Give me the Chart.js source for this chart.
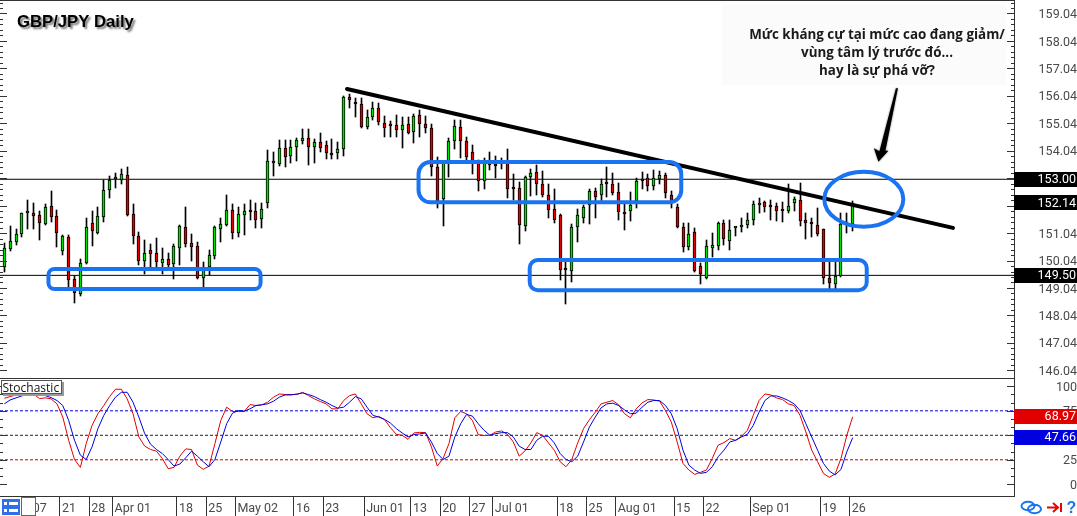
<!DOCTYPE html>
<html lang="vi">
<head>
<meta charset="utf-8">
<title>GBP/JPY Daily</title>
<script src="https://cdn.jsdelivr.net/npm/chart.js@4"></script>
<style>
  html, body { margin: 0; padding: 0; background: #fff; overflow: hidden; }
  canvas { display: block; }
</style>
</head>
<body>
<canvas id="chart" width="1077" height="516"></canvas>
<script>
// Daily candles, oldest first.
const opens = [
  149.79,150.47,150.73,151.00,151.76,151.76,151.69,151.38,152.02,151.65,
  150.38,150.89,149.36,148.81,149.96,151.40,151.06,151.64,152.60,153.00,
  152.96,153.15,151.72,150.92,150.04,150.41,150.30,149.96,150.09,149.92,
  150.49,151.25,150.67,150.56,149.42,149.79,150.22,151.20,151.35,151.87,
  151.03,151.71,151.87,151.83,151.54,152.13,153.61,153.57,154.13,153.84,
  154.17,154.38,154.49,154.17,154.35,154.24,153.95,153.95,154.09,155.99,
  155.77,155.73,154.92,155.26,155.59,155.04,154.97,154.97,154.79,155.00,
  154.71,155.33,155.00,154.86,153.46,152.27,153.58,154.38,154.89,154.38,
  153.98,153.58,152.93,153.58,153.51,153.55,153.58,152.67,152.67,151.29,
  153.07,153.26,152.82,152.42,151.91,151.69,149.73,149.65,151.25,151.58,
  152.05,152.56,152.42,152.85,152.82,152.53,151.76,151.83,152.20,152.94,
  153.04,152.74,153.01,153.15,152.42,151.98,151.25,150.52,151.07,149.84,
  149.39,150.49,150.56,151.40,150.74,151.24,151.25,151.32,151.51,152.05,
  152.16,152.03,152.02,151.86,151.83,152.13,152.23,151.52,151.40,151.32,
  151.18,149.39,149.17,149.49,151.37,151.37
];
const closes = [
  150.49,150.74,151.00,151.76,151.83,151.68,151.42,151.98,151.64,151.03,
  150.92,149.32,148.85,149.94,151.25,151.13,151.65,152.60,152.98,153.10,
  153.18,151.69,150.92,150.04,150.30,150.29,149.98,150.09,149.89,150.56,
  151.30,150.66,150.52,149.42,149.82,150.23,151.25,151.36,151.87,151.06,
  151.72,151.83,151.82,151.53,151.91,153.66,153.63,154.13,153.80,154.17,
  154.42,154.49,154.17,154.35,154.13,153.95,153.90,154.09,155.99,155.88,
  155.73,154.92,155.26,155.59,155.08,154.88,154.93,154.79,154.97,154.70,
  155.30,155.00,154.86,153.46,152.22,153.61,154.38,154.93,154.38,153.80,
  153.55,152.93,153.58,153.51,153.49,153.58,152.64,152.65,151.32,153.07,
  153.22,152.82,152.42,151.88,151.51,149.68,149.71,151.25,151.69,151.98,
  152.56,152.37,152.82,152.82,152.51,151.80,151.72,152.05,152.93,152.92,
  152.77,153.04,153.15,152.49,152.20,151.25,150.55,151.00,149.67,149.55,
  150.56,150.60,151.40,150.81,151.14,151.26,151.29,151.51,152.09,152.09,
  151.98,152.00,151.83,151.83,152.02,152.27,151.47,151.40,151.36,151.00,
  149.39,149.21,149.49,151.37,151.40,152.14
];
const highs = [
  150.69,151.28,151.18,151.76,152.25,152.13,151.83,152.10,152.57,151.88,
  150.96,150.96,149.48,150.09,151.58,151.86,151.98,152.98,153.12,153.23,
  153.39,153.44,152.09,151.09,150.79,150.63,150.85,150.49,150.30,150.64,
  151.34,151.98,151.01,150.70,149.98,150.41,151.28,151.58,152.42,152.10,
  151.98,152.10,152.23,152.14,152.13,154.07,153.98,154.42,154.42,154.42,
  154.49,154.82,154.82,154.46,154.68,154.38,154.46,154.37,156.04,156.10,
  155.95,155.95,155.53,155.81,155.77,155.31,155.11,155.33,155.26,155.26,
  155.37,155.51,155.31,155.00,153.80,153.61,154.49,155.16,155.16,154.53,
  154.24,153.70,153.77,153.98,153.85,153.77,154.09,153.18,152.89,153.12,
  153.36,153.51,153.29,152.82,152.64,151.72,149.98,151.36,151.91,152.05,
  152.64,152.67,153.00,153.44,153.22,152.85,152.19,152.53,153.04,153.28,
  153.18,153.34,153.29,153.22,152.59,152.10,151.40,151.40,151.21,149.94,
  150.79,151.03,151.46,151.52,151.52,151.27,151.58,151.76,152.21,152.32,
  152.21,152.25,152.13,152.19,152.83,152.34,152.85,151.76,151.58,151.94,
  151.20,150.00,149.98,151.76,151.76,152.21
];
const lows = [
  149.64,150.40,150.61,150.89,151.20,151.18,150.77,151.32,151.46,150.55,
  150.23,149.09,148.51,148.73,149.90,150.57,151.00,151.46,152.30,152.70,
  152.83,151.66,150.63,149.88,149.55,149.79,149.77,149.55,149.78,149.38,
  149.88,150.55,150.04,149.38,149.09,149.50,150.11,150.73,151.28,150.84,
  150.89,150.97,151.52,151.23,151.23,151.97,153.12,153.50,153.46,153.60,
  153.66,154.30,153.51,153.61,154.01,153.75,153.75,153.75,153.83,155.59,
  155.28,154.85,154.82,155.16,154.98,154.53,154.53,154.53,154.13,154.65,
  154.31,154.53,154.68,153.13,151.96,151.31,153.10,154.11,153.78,153.58,
  153.18,152.59,152.66,153.33,153.06,153.36,152.32,152.25,150.66,151.13,
  152.40,152.43,152.34,151.58,151.42,149.34,148.47,149.27,150.73,151.40,
  151.37,151.58,152.15,152.34,152.43,151.52,151.17,151.49,151.97,152.66,
  152.59,152.60,152.83,152.32,151.94,151.21,150.35,150.43,149.64,149.20,
  149.36,150.18,150.43,150.61,150.43,150.95,151.07,151.23,151.32,151.76,
  151.81,151.51,151.47,151.43,151.76,151.86,151.31,150.84,150.89,150.94,
  149.17,148.97,149.02,149.45,151.03,151.13
];

// Stochastic oscillator: main and signal lines, one value per candle.
const stochMain = [
  87.8,89.5,91.2,93.6,93.6,92.2,87.5,88.2,87.2,82.1,
  68.6,44.9,25.3,17.2,41.6,60.1,72,80.4,89.5,97,
  97,87.2,72,48.3,38.9,35.5,33.8,26.4,15.9,17.2,
  28.7,36.1,35.5,19.6,15.2,18.6,41.6,65.2,78.7,74.3,
  74.3,74.3,81.4,80.4,81.1,83.8,88.9,92.2,91.6,91.6,
  91.6,93.9,90.5,87.2,84.5,82.1,77,77,85.5,90.5,
  92.2,
  82.1,72,67.9,69.3,65.9,57.8,51,50,45.9,52.4,
  53,52.7,38.2,18.6,26.4,41.6,67.9,74.3,72,65.2,
  50.7,49.7,50,53.4,54.4,51,43.2,28.7,34.1,42.2,
  52.7,50,42.2,34.8,23,17.9,25.3,42.2,56.8,65.9,
  73.6,82.1,83.8,85.5,81.1,72,67.9,77,83.1,86.5,
  86.1,84.8,75.3,63.5,43.2,21.3,14.5,10.1,12.2,14.5,
  26.4,39.9,
  42.6,46.6,44.9,49,55.1,70.3,85.5,92.2,91.2,88.2,
  86.5,82.1,80.4,70.3,53.4,34.8,23,11.1,7.1,10.5,
  26.4,50,68.97
];
const stochSignal = [
  82.1,86.1,88.2,90.2,92.6,93.2,92.2,90.5,88.5,85.5,
  80.4,65.2,44.9,29.7,25.3,38.2,56.8,70.3,80.4,88.9,
  93.9,93.9,83.8,68.6,51.7,40.9,35.5,31.4,25.3,18.6,
  20.6,27,33.8,28.7,23,17.9,25.3,43.2,61.8,72.6,
  75.3,74.7,77,80.4,81.1,82.1,84.8,88.9,91.2,91.2,
  92.2,93.2,91.6,89.5,86.5,83.8,80.4,77.7,78.7,83.8,
  89.5,
  87.2,78.7,70.3,68.6,66.2,62.5,56.8,52.4,48.3,50.7,
  51.4,52.4,43.2,31.4,25.3,28.7,48.3,61.8,71.3,69.6,
  61.8,55.1,50,51.7,52.7,52.7,48.3,38.9,35.5,35.5,
  44.9,49,49,42.2,31.4,25.3,23,28.7,43.2,58.4,
  68.6,78,82.1,82.8,80.4,76,72,72.6,78.7,83.8,
  85.5,85.5,80.4,72,56.8,34.8,19.6,14.5,11.1,12.2,
  17.9,28,
  34.8,43.2,44.9,48.3,51,60.1,73.6,85.5,90.2,90.2,
  88.2,85.5,82.1,75.3,61.8,48.3,34.8,21.3,13.5,9.5,
  15.2,33.1,47.66
];

// Axis ticks and calendar labels.
const priceTicks = [159.04,158.04,157.04,156.04,155.04,154.04,153.04,152.04,151.04,150.04,149.04,148.04,147.04,146.04];
const stochTicks = [100,75,50,25,0];
const timeTickBars = [4.5,9.5,14.5,18.5,29.5,34.5,39.5,49.5,54.5,61.5,69.5,74.5,79.5,83.5,94.5,99.5,104.5,114.5,119.5,127.5,139.5,144.5];
const timeTickLabels = ['07','21','28','Apr 01','18','25','May 02','16','23','Jun 01','13','20','27','Jul 01','18','25','Aug 01','15','22','Sep 01','19','26'];

// Levels and drawn analysis, expressed in bar index and price.
const keyLevels = [153.00, 149.50];
const lastPrice = 152.14;
const trendFrom = { x: 58.57, y: 156.29 };
const trendTo = { x: 162.14, y: 151.23 };
const zones = [
  { bars: [7.55, 43.8], prices: [149.73, 149.0], radius: 6 },
  { bars: [70.8, 115.7], prices: [153.63, 152.16], radius: 12 },
  { bars: [89.8, 147.4], prices: [150.06, 148.96], radius: 8 }
];
const breakoutEllipse = { bar: 146.9, price: 152.27, barRadius: 6.75, priceRadius: 1.0 };
const arrowTip = { bar: 149.4, price: 153.64 };
const noteLines = ['Mức kháng cự tại mức cao đang giảm/', 'vùng tâm lý trước đó...', 'hay là sự phá vỡ?'];
const stochLevels = [
  { value: 75, color: '#0000e0' },
  { value: 50, color: '#222222' },
  { value: 25, color: '#c00000' }
];

const BAR_MIN = -0.735;
const BAR_MAX = 172.57;
const UP = '#00e000';
const DOWN = '#e00000';
const FRAME = '#333333';
const ZONE = '#1a73f0';
// The tiny line height nudges two-line tick labels just below the tick centre.
const AXIS_FONT = { family: 'Roboto', size: 12.5 };
const Y_AXIS_FONT = { family: 'Roboto', size: 12.5, lineHeight: 0.24 };
const AXIS_TEXT = '#4a4a4a';

const flat = (y, yAxisID, color, extra) => ({
  type: 'line', yAxisID, data: [{ x: BAR_MIN, y }, { x: BAR_MAX, y }],
  borderColor: color, borderWidth: 1, pointRadius: 0, order: 5, ...extra
});

const datasets = [
  {
    label: 'Range', type: 'bar', yAxisID: 'price', order: 4,
    data: lows.map((low, i) => ({ x: i, y: [low, highs[i]] })),
    backgroundColor: '#000', barThickness: 1, grouped: false
  },
  {
    label: 'Body', type: 'bar', yAxisID: 'price', order: 3,
    data: opens.map((open, i) => ({ x: i, y: [open, closes[i]] })),
    backgroundColor: opens.map((open, i) => closes[i] >= open ? UP : DOWN),
    borderColor: '#000', borderWidth: 1, borderSkipped: false,
    barThickness: 3, minBarLength: 2, grouped: false
  },
  ...keyLevels.map(level => flat(level, 'price', '#000')),
  {
    label: 'Trend', type: 'line', yAxisID: 'price', order: 1,
    data: [trendFrom, trendTo], borderColor: '#000', borderWidth: 4,
    borderCapStyle: 'round', pointRadius: 0
  },
  ...stochLevels.map(l => flat(l.value, 'stoch', l.color, { borderDash: [3, 2] })),
  {
    label: 'Main', type: 'line', yAxisID: 'stoch', order: 2,
    data: stochMain.map((y, x) => ({ x, y })),
    borderColor: '#e00000', borderWidth: 1, pointRadius: 0
  },
  {
    label: 'Signal', type: 'line', yAxisID: 'stoch', order: 1,
    data: stochSignal.map((y, x) => ({ x, y })),
    borderColor: '#0000e0', borderWidth: 1, pointRadius: 0
  }
];

// Tag on the price or indicator axis showing a current value.
function axisTag(ctx, area, y, text, fill) {
  ctx.fillStyle = fill;
  ctx.fillRect(area.right, Math.round(y - 7.5), 1077 - area.right, 15);
  ctx.fillStyle = '#fff';
  ctx.font = '12.5px Roboto';
  ctx.textAlign = 'right';
  ctx.textBaseline = 'middle';
  ctx.fillText(text, 1076, y + 0.5);
}

// Inward tick marks on both sides of a pane.
function paneTicks(ctx, scale, area, values, length) {
  ctx.beginPath();
  values.forEach(v => {
    const y = Math.round(scale.getPixelForValue(v)) + 0.5;
    ctx.moveTo(0, y); ctx.lineTo(length, y);
    ctx.moveTo(area.right - length, y); ctx.lineTo(area.right, y);
  });
  ctx.stroke();
}

// Candles sit on whole pixels so that wicks and outlines stay crisp.
const crispBars = {
  id: 'crispBars',
  beforeDatasetsDraw(chart) {
    chart.getSortedVisibleDatasetMetas().forEach(meta => {
      if (meta.type !== 'bar') return;
      meta.data.forEach(bar => {
        bar.x = Math.floor(bar.x) + 0.5;
        bar.y = Math.round(bar.y);
        bar.base = Math.round(bar.base);
      });
    });
  }
};

const overlay = {
  id: 'overlay',
  afterDraw(chart) {
    const { ctx, chartArea: area, scales } = chart;
    const { x, price, stoch } = scales;
    ctx.save();

    // pane frame and tick marks
    ctx.strokeStyle = FRAME;
    ctx.lineWidth = 1;
    const paneLine = Math.round(price.bottom) + 0.5;
    ctx.beginPath();
    ctx.moveTo(0, 0.5); ctx.lineTo(area.right, 0.5);
    ctx.moveTo(0, paneLine); ctx.lineTo(area.right, paneLine);
    ctx.moveTo(0, Math.round(area.bottom) - 0.5); ctx.lineTo(area.right, Math.round(area.bottom) - 0.5);
    ctx.moveTo(area.right + 0.5, 0); ctx.lineTo(area.right + 0.5, area.bottom);
    ctx.stroke();

    const minorPrice = [];
    for (let v = 146.04; v < 159.5; v += 0.2) minorPrice.push(v);
    paneTicks(ctx, price, area, minorPrice.filter(v => v > 145.8), 3);
    paneTicks(ctx, price, area, priceTicks, 7);
    const minorStoch = [];
    for (let k = 0; k <= 12; k++) minorStoch.push(k * 25 / 3);
    paneTicks(ctx, stoch, area, minorStoch, 3);
    paneTicks(ctx, stoch, area, stochTicks, 7);

    // support and resistance boxes
    ctx.strokeStyle = ZONE;
    ctx.lineWidth = 4;
    zones.forEach(z => {
      const left = x.getPixelForValue(z.bars[0]);
      const right = x.getPixelForValue(z.bars[1]);
      const top = price.getPixelForValue(z.prices[0]);
      const bottom = price.getPixelForValue(z.prices[1]);
      ctx.beginPath();
      ctx.roundRect(left, top, right - left, bottom - top, z.radius);
      ctx.stroke();
    });

    // breakout ellipse
    const e = breakoutEllipse;
    const cx = x.getPixelForValue(e.bar);
    const cy = price.getPixelForValue(e.price);
    ctx.beginPath();
    ctx.ellipse(cx, cy,
      x.getPixelForValue(e.bar + e.barRadius) - cx,
      price.getPixelForValue(e.price - e.priceRadius) - cy, 0, 0, Math.PI * 2);
    ctx.stroke();

    // callout background and text
    ctx.fillStyle = '#fbfbfb';
    ctx.fillRect(722, 5, 284, 80);
    ctx.fillStyle = '#1a1a1a';
    ctx.font = 'bold 13.4px "Open Sans"';
    ctx.textAlign = 'center';
    ctx.textBaseline = 'alphabetic';
    noteLines.forEach((line, i) => ctx.fillText(line, 877, 39 + i * 18));

    // tapered arrow from the callout to the ellipse
    const tx = x.getPixelForValue(arrowTip.bar);
    const ty = price.getPixelForValue(arrowTip.price);
    ctx.save();
    ctx.shadowColor = 'rgba(0,0,0,0.6)';
    ctx.shadowBlur = 2;
    ctx.fillStyle = '#000';
    ctx.beginPath();
    ctx.moveTo(tx + 17.5, ty - 73.5);
    ctx.lineTo(tx + 19.5, ty - 73.5);
    ctx.lineTo(tx + 7, ty - 11);
    ctx.lineTo(tx + 10, ty - 11);
    ctx.lineTo(tx, ty);
    ctx.lineTo(tx - 4.5, ty - 13.5);
    ctx.lineTo(tx + 1, ty - 10.5);
    ctx.closePath();
    ctx.fill();
    ctx.restore();

    // chart title
    ctx.save();
    ctx.shadowColor = 'rgba(0,0,0,0.55)';
    ctx.shadowBlur = 2;
    ctx.shadowOffsetX = 2;
    ctx.shadowOffsetY = 2;
    ctx.fillStyle = '#000';
    ctx.font = 'bold 16.7px "Liberation Sans"';
    ctx.textAlign = 'left';
    ctx.textBaseline = 'alphabetic';
    ctx.fillText('GBP/JPY Daily', 17, 26.5);
    ctx.restore();

    // indicator name
    ctx.fillStyle = '#999';
    ctx.fillRect(3, 382, 61, 14);
    ctx.fillStyle = '#fff';
    ctx.fillRect(1.5, 380.5, 60, 13);
    ctx.strokeStyle = '#555';
    ctx.lineWidth = 1;
    ctx.strokeRect(1.5, 380.5, 60, 13);
    ctx.fillStyle = '#111';
    ctx.font = '12px "Open Sans"';
    ctx.textAlign = 'left';
    ctx.textBaseline = 'alphabetic';
    ctx.fillText('Stochastic', 2.5, 391.5);

    // current value tags
    keyLevels.forEach(level => axisTag(ctx, area, price.getPixelForValue(level), level.toFixed(2), '#000'));
    axisTag(ctx, area, price.getPixelForValue(lastPrice), lastPrice.toFixed(2), '#000');
    axisTag(ctx, area, stoch.getPixelForValue(stochMain[stochMain.length - 1]), stochMain[stochMain.length - 1].toFixed(2), '#e00000');
    axisTag(ctx, area, stoch.getPixelForValue(stochSignal[stochSignal.length - 1]), stochSignal[stochSignal.length - 1].toFixed(2), '#0000e0');

    // toolbar buttons along the bottom corners
    ctx.fillStyle = '#2f6fe8';
    ctx.fillRect(2, 499, 18, 16);
    ctx.fillStyle = '#fff';
    [502, 509].forEach(y => {
      ctx.fillRect(4, y, 3, 3);
      ctx.fillRect(9, y, 9, 3);
    });
    ctx.fillStyle = '#fff';
    ctx.fillRect(21.5, 497.5, 14, 18);
    ctx.strokeStyle = '#666';
    ctx.strokeRect(21.5, 497.5, 14, 18);

    ctx.strokeStyle = '#1a73f0';
    ctx.lineWidth = 2;
    ctx.beginPath();
    ctx.ellipse(1028, 506, 6.5, 4.2, 0, 0, Math.PI * 2);
    ctx.moveTo(1041, 509);
    ctx.ellipse(1034.5, 509, 6.5, 4.2, 0, 0, Math.PI * 2);
    ctx.stroke();

    ctx.strokeStyle = '#f00000';
    ctx.beginPath();
    ctx.moveTo(1047, 507.5); ctx.lineTo(1058, 507.5);
    ctx.moveTo(1053, 503); ctx.lineTo(1058, 507.5); ctx.lineTo(1053, 512);
    ctx.moveTo(1061, 503); ctx.lineTo(1061, 512);
    ctx.stroke();

    ctx.fillStyle = '#1a73f0';
    ctx.font = 'bold 16px "Liberation Sans"';
    ctx.textAlign = 'center';
    ctx.textBaseline = 'alphabetic';
    ctx.fillText('?', 1071.5, 512.5);

    ctx.restore();
  }
};

const fixedTicks = values => scale => { scale.ticks = values.map(value => ({ value })); };

// Label overhang must not shrink the panes, so each axis reports no padding.
const fitAxis = (prop, size) => scale => {
  scale[prop] = size;
  scale.paddingTop = scale.paddingBottom = scale.paddingLeft = scale.paddingRight = 0;
};

new Chart(document.getElementById('chart'), {
  type: 'bar',
  data: { datasets },
  plugins: [crispBars, overlay],
  options: {
    responsive: false,
    animation: false,
    events: [],
    layout: { padding: { top: 1, left: 0, right: 0, bottom: 0 } },
    plugins: { legend: { display: false }, tooltip: { enabled: false } },
    scales: {
      x: {
        type: 'linear', min: BAR_MIN, max: BAR_MAX, offset: false,
        grid: { offset: false, drawOnChartArea: false, tickLength: 19, tickColor: FRAME },
        border: { display: false },
        afterBuildTicks: fixedTicks(timeTickBars),
        afterFit: fitAxis('height', 19),
        ticks: {
          autoSkip: false, maxRotation: 0, minRotation: 0,
          align: 'start', labelOffset: 2, padding: -15,
          color: AXIS_TEXT, font: AXIS_FONT,
          callback: value => timeTickLabels[timeTickBars.indexOf(value)]
        }
      },
      price: {
        type: 'linear', position: 'right', stack: 'panes', stackWeight: 377, weight: 1,
        min: 145.76, max: 159.495,
        grid: { drawOnChartArea: false, drawTicks: false },
        border: { display: false },
        afterBuildTicks: fixedTicks(priceTicks),
        afterFit: fitAxis('width', 63),
        ticks: {
          autoSkip: false, crossAlign: 'far', padding: 24,
          color: AXIS_TEXT, font: Y_AXIS_FONT,
          callback: value => ['', value.toFixed(2)]
        }
      },
      stoch: {
        type: 'linear', position: 'right', stack: 'panes', stackWeight: 119, weight: 2,
        min: -13, max: 108.5,
        grid: { drawOnChartArea: false, drawTicks: false },
        border: { display: false },
        afterBuildTicks: fixedTicks(stochTicks),
        afterFit: fitAxis('width', 63),
        ticks: {
          autoSkip: false, crossAlign: 'far', padding: 25,
          color: AXIS_TEXT, font: Y_AXIS_FONT,
          callback: value => ['', String(value)]
        }
      }
    }
  }
});
</script>
</body>
</html>
